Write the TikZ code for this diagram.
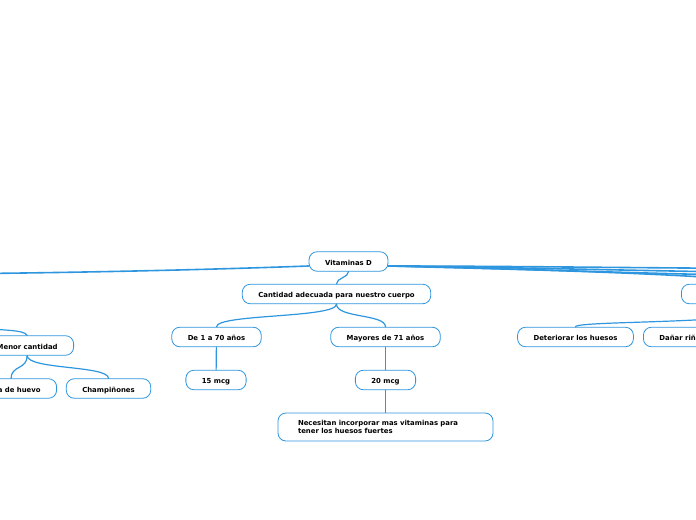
\documentclass[tikz,border=0pt]{standalone}
\usepackage{fontspec}
\setmainfont{DejaVu Sans}
\usepackage{tikz}
\definecolor{mblue}{HTML}{2E96DE}
\tikzset{cell/.style={rectangle, rounded corners=8bp, draw=mblue, line width=0.8bp,
   fill=white, font=\fontsize{6.9bp}{8bp}\selectfont\bfseries,
   inner xsep=16bp, inner ysep=0pt, minimum height=19.5bp,
   text height=1.6ex, text depth=.3ex}}
\tikzset{note/.style={cell, align=left, text width=175bp, inner xsep=20bp,
   minimum height=28bp, text height=, text depth=}}
\tikzset{link/.style={draw=mblue, line width=1.2bp, line cap=round}}
\tikzset{rootlink/.style={link, line width=1.6bp}}

\begin{document}
\begin{tikzpicture}[x=1bp, y=-1bp]

    \path[use as bounding box, clip] (0,0) rectangle (696,520);

    \node[cell] (vit) at (348.5,261.5) {Vitaminas D};
    \node[cell] (cant) at (336.5,294) {Cantidad adecuada para nuestro cuerpo};
    \node[cell] (de) at (216.5,337) {De 1 a 70 años};
    \node[cell] (may) at (385.5,337) {Mayores de 71 años};
    \node[cell] (m15) at (216,380) {15 mcg};
    \node[cell] (m20) at (385.5,380) {20 mcg};
    \node[note] (nec) at (385.5,427) {Necesitan incorporar mas vitaminas para tener los huesos fuertes};

    \node[cell, anchor=east] (menor) at (74,345.5) {Menor cantidad};
    \node[cell, anchor=east] (yema) at (57,388.5) {Yema de huevo};
    \node[cell] (champ) at (108.5,388.5) {Champiñones};

    \node[cell, anchor=west, minimum width=200bp] (rbox) at (681,294) {};
    \node[cell] (det) at (575.5,337) {Deteriorar los huesos};
    \node[cell, anchor=west] (dan) at (643,337) {Dañar riñones};

    \coordinate (farleft) at (-60,274);
    \coordinate (upleft) at (-40,326);
    \coordinate (far1) at (760,268.5);
    \coordinate (far2) at (760,272.5);
    \coordinate (far3) at (760,275.5);

    \draw[rootlink] ([yshift=-4.5bp]vit.west) .. controls (280,267) and (150,272) .. (farleft);
    \draw[rootlink] ([yshift=-4.5bp]vit.east) .. controls (500,266) and (650,268) .. (far1);
    \draw[rootlink] ([yshift=-4.5bp]vit.east) .. controls (500,267) and (650,271) .. (far2);
    \draw[rootlink] ([yshift=-4.5bp]vit.east) .. controls (500,268) and (650,274) .. (far3);
    \draw[rootlink] ([yshift=-4.5bp]vit.east) .. controls (500,269) and (700,273) .. (rbox.north);
    \draw[link] (vit.south) .. controls +(0,6) and +(0,-6) .. (cant.north);

    \draw[link] (cant.south) .. controls +(0,14) and +(0,-13) .. (de.north);
    \draw[link] (cant.south) .. controls +(0,14) and +(0,-13) .. (may.north);
    \draw[link] (de) -- (m15);
    \draw[link] (may) -- (m20);
    \draw[link] (m20) -- (nec);

    \draw[link] (upleft) .. controls (0,331) and (24,329) .. (menor.north);
    \draw[link] (menor.south) .. controls +(0,14) and +(0,-13) .. (yema.north);
    \draw[link] (menor.south) .. controls +(0,14) and +(0,-13) .. (champ.north);

    \draw[link] (rbox.south) .. controls +(0,21) and +(0,-7) .. (det.north);

  \end{tikzpicture}
\end{document}
